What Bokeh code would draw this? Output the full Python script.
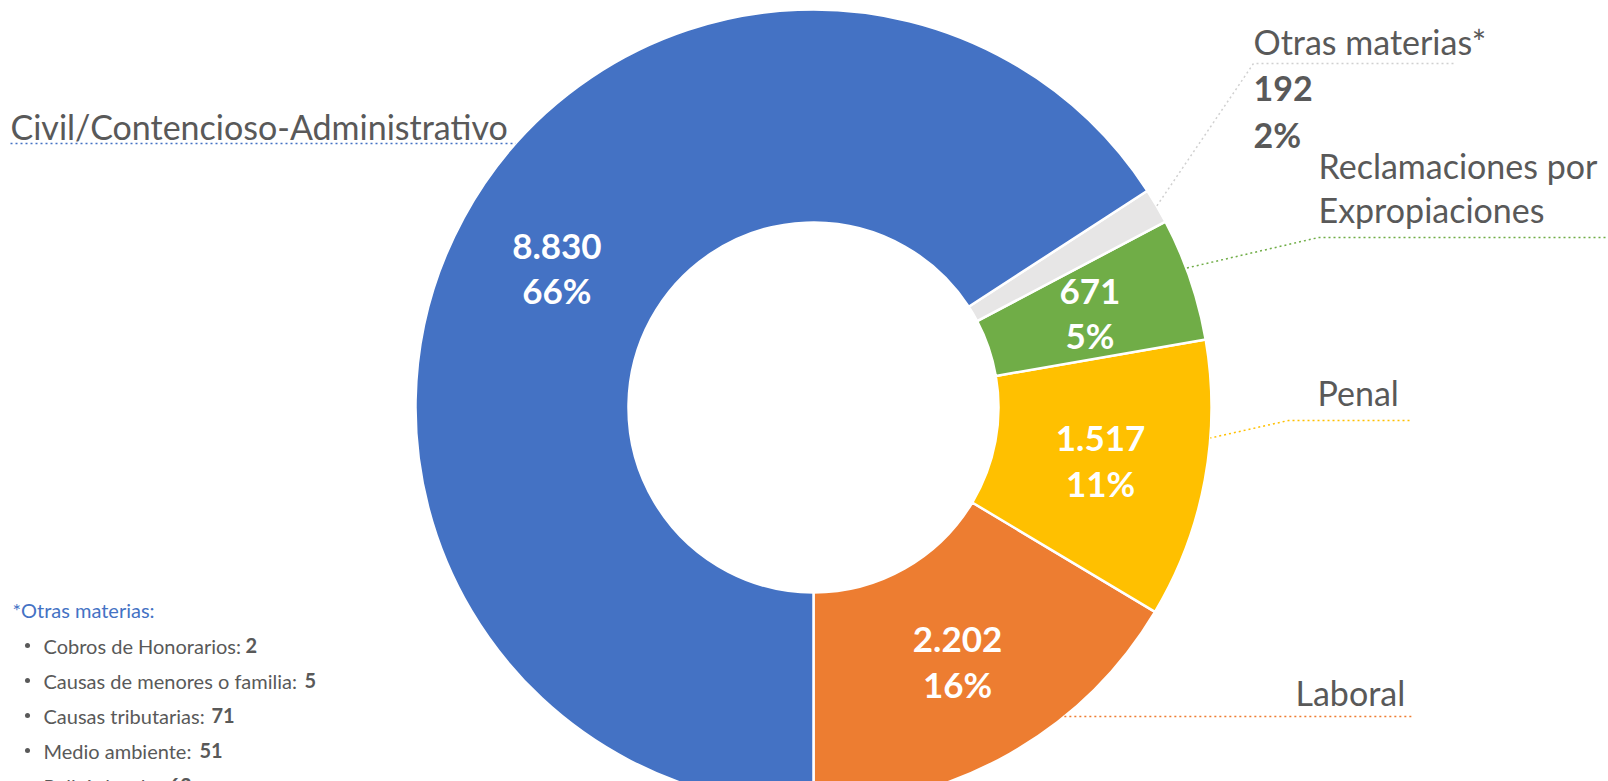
import numpy as np
from bokeh.plotting import figure
from bokeh.models import Range1d, ColumnDataSource
from bokeh.embed import file_html
from bokeh.resources import INLINE
from bokeh.core.properties import value

# ---------------- data ----------------
categories = ["Laboral", "Penal", "Reclamaciones por Expropiaciones",
              "Otras materias*", "Civil/Contencioso-Administrativo"]
counts = [2202, 1517, 671, 192, 8830]
pct_labels = ["16%", "11%", "5%", "2%", "66%"]

otras_items = ["Cobros de Honorarios", "Causas de menores o familia",
               "Causas tributarias", "Medio ambiente", "Policía local"]
otras_counts = [2, 5, 71, 51, 63]

# ---------------- styles / layout ----------------
colors = ["#ED7D31", "#FFC000", "#70AD47", "#E7E6E6", "#4472C4"]
GREY = "#595959"
FONT = value("Lato")
W, H = 1608, 781


def Y(py):
    """convert a page pixel row to the (upward) data y coordinate"""
    return H - py


CX, CY = 813, Y(407)
R_OUT, R_IN = 398, 185

p = figure(width=W, height=H, output_backend="svg", toolbar_location=None,
           x_range=Range1d(0, W), y_range=Range1d(0, H),
           x_axis_location=None, y_axis_location=None, min_border=0)
p.grid.visible = False
p.outline_line_color = None
p.background_fill_color = "white"

# ---------------- donut ----------------
vals = np.array(counts, dtype=float)
frac = vals / vals.sum()
ends = -np.pi / 2 + np.cumsum(frac) * 2 * np.pi
starts = np.concatenate([[-np.pi / 2], ends[:-1]])
src = ColumnDataSource(dict(cat=categories, start=starts, end=ends, color=colors))
p.annular_wedge(x=CX, y=CY, inner_radius=R_IN, outer_radius=R_OUT,
                start_angle="start", end_angle="end", direction="anticlock",
                fill_color="color", line_color="white", line_width=2.5, source=src)

# inner labels (value + percent) at the middle of each slice
mid = (starts + ends) / 2
r_lab = 292
val_txt = [f"{v:,}".replace(",", ".") for v in counts]
lx = CX + r_lab * np.cos(mid)
ly = CY + r_lab * np.sin(mid)
inner = [i for i, c in enumerate(categories) if c != "Otras materias*"]
p.text(x=[lx[i] for i in inner], y=[ly[i] + 22 for i in inner],
       text=[val_txt[i] for i in inner], text_font=FONT, text_font_size="35px",
       text_font_style="bold", text_color="white", text_align="center",
       text_baseline="middle")
p.text(x=[lx[i] for i in inner], y=[ly[i] - 22 for i in inner],
       text=[pct_labels[i] for i in inner], text_font=FONT, text_font_size="35px",
       text_font_style="bold", text_color="white", text_align="center",
       text_baseline="middle")


def edge(angle_deg):
    a = np.deg2rad(angle_deg)
    return CX + R_OUT * np.cos(a), CY + R_OUT * np.sin(a)


def edge_at_y(py, side):
    dy = CY - Y(py)
    return CX + side * np.sqrt(R_OUT ** 2 - dy ** 2)


idx = {c: i for i, c in enumerate(categories)}
dash = "2 3"

# Civil leader (horizontal)
ci = idx["Civil/Contencioso-Administrativo"]
p.line([10, edge_at_y(143, -1)], [Y(143), Y(143)], line_color=colors[ci],
       line_dash=dash, line_width=1.5)
# Otras leader: elbow then to the middle of the grey slice
oi = idx["Otras materias*"]
ex, ey = edge(np.rad2deg(mid[oi]))
p.line([1453, 1253, ex], [Y(63), Y(63), ey], line_color="#D0D0D0",
       line_dash=dash, line_width=1.5)
# Reclamaciones leader
ri = idx["Reclamaciones por Expropiaciones"]
ex, ey = edge(20.5)
p.line([1610, 1318, ex], [Y(237), Y(237), ey], line_color=colors[ri],
       line_dash=dash, line_width=1.5)
# Penal leader
pi_ = idx["Penal"]
ex, ey = edge(-4.4)
p.line([1409, 1288, ex], [Y(420), Y(420), ey], line_color=colors[pi_],
       line_dash=dash, line_width=1.5)
# Laboral leader
li = idx["Laboral"]
p.line([edge_at_y(716, 1), 1413], [Y(716), Y(716)], line_color=colors[li],
       line_dash=dash, line_width=1.5)

# outer labels
outer_x = [10, 1253, 1318, 1318, 1317, 1295]
outer_y = [126, 41, 165, 209, 392, 692]
outer_t = ["Civil/Contencioso-Administrativo", "Otras materias*",
           "Reclamaciones por", "Expropiaciones", "Penal", "Laboral"]
p.text(x=outer_x, y=[Y(v) for v in outer_y], text=outer_t, text_font=FONT,
       text_font_size="34px", text_color=GREY, text_align="left",
       text_baseline="middle")
# Otras value / percent (outside, bold grey)
p.text(x=[1253, 1253], y=[Y(88), Y(134)], text=[val_txt[oi], pct_labels[oi]],
       text_font=FONT, text_font_size="34px", text_font_style="bold",
       text_color=GREY, text_align="left", text_baseline="middle")

# ---------------- footnote ----------------
p.text(x=[12], y=[Y(609)], text=["*Otras materias:"], text_font=FONT,
       text_font_size="20px", text_color="#4472C4", text_align="left",
       text_baseline="middle")
rows = [645 + 35 * i for i in range(len(otras_items))]
num_x = [245, 304, 211, 199, 168]
p.scatter(x=[27] * len(rows), y=[Y(r) for r in rows], size=5, marker="circle",
          fill_color=GREY, line_color=None)
p.text(x=[43] * len(rows), y=[Y(r) for r in rows],
       text=[f"{t}: " for t in otras_items], text_font=FONT,
       text_font_size="20px", text_color=GREY, text_align="left",
       text_baseline="middle")
p.text(x=num_x, y=[Y(r) for r in rows], text=[str(v) for v in otras_counts],
       text_font=FONT, text_font_size="20px", text_font_style="bold",
       text_color=GREY, text_align="left", text_baseline="middle")

open("out.html", "w").write(file_html(p, INLINE))
